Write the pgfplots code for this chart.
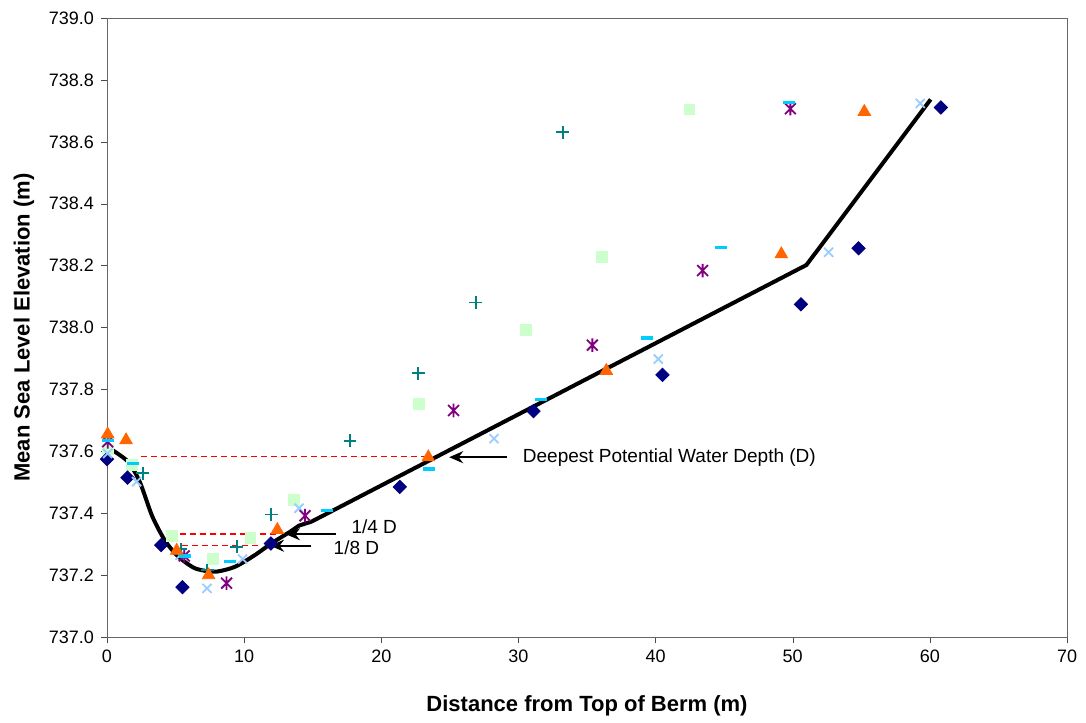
\documentclass[border=0pt]{standalone}
\usepackage{pgfplots}
\pgfplotsset{compat=1.18}
\usepackage{fontspec}
\setmainfont{Liberation Sans}
\usetikzlibrary{arrows.meta}
\definecolor{cnavy}{RGB}{0,0,128}
\definecolor{cgreen}{RGB}{204,255,204}
\definecolor{corange}{RGB}{255,102,0}
\definecolor{clblue}{RGB}{153,204,255}
\definecolor{cpurple}{RGB}{128,0,128}
\definecolor{cteal}{RGB}{0,128,128}
\definecolor{ccyan}{RGB}{0,204,255}
\pgfdeclareplotmark{xstar}{%
  \pgfpathmoveto{\pgfqpoint{-.8\pgfplotmarksize}{-.8\pgfplotmarksize}}%
  \pgfpathlineto{\pgfqpoint{.8\pgfplotmarksize}{.8\pgfplotmarksize}}%
  \pgfpathmoveto{\pgfqpoint{-.8\pgfplotmarksize}{.8\pgfplotmarksize}}%
  \pgfpathlineto{\pgfqpoint{.8\pgfplotmarksize}{-.8\pgfplotmarksize}}%
  \pgfpathmoveto{\pgfqpoint{0pt}{-\pgfplotmarksize}}%
  \pgfpathlineto{\pgfqpoint{0pt}{\pgfplotmarksize}}%
  \pgfusepathqstroke}
\begin{document}
\begin{tikzpicture}
\begin{axis}[
  scale only axis, width=480pt, height=309.5pt,
  xmin=0, xmax=70, ymin=737, ymax=739,
  xtick={0,10,...,70}, ytick={737,737.2,...,739.01},
  yticklabel style={/pgf/number format/.cd, fixed, fixed zerofill, precision=1},
  /pgf/number format/assume math mode=true,
  /pgf/number format/1000 sep={},
  tick label style={font=\fontsize{9}{10}\selectfont},
  tick align=outside, tick pos=left, major tick length=3pt,
  axis line style={black!60}, tick style={black!70},
  xlabel={\textbf{Distance from Top of Berm (m)}},
  ylabel={\textbf{Mean Sea Level Elevation (m)}},
  label style={font=\fontsize{11}{13}\selectfont},
  xlabel style={yshift=-9.5pt},
  ylabel style={yshift=0.5pt},
  clip=false,
]
% fitted profile
\addplot[black, line width=2pt, smooth, tension=0.45] coordinates {
(0,737.615) (1.5,737.568) (2.4,737.5) (3.3,737.39) (4.25,737.31) (5.2,737.26) (6.42,737.222) (7.87,737.211) (9.33,737.227) (10.79,737.265) (12.0,737.303) (13.35,737.34)};
\addplot[black, line width=2pt] coordinates {
(13.35,737.34) (14.0,737.36) (14.92,737.373) (51.0,738.202) (60.06,738.737)};
% dashed reference levels
\addplot[red, line width=0.6pt, dash pattern=on 3pt off 2pt] coordinates {(2.5,737.582) (23.4,737.582)};
\addplot[red, line width=0.6pt, dash pattern=on 3pt off 2pt] coordinates {(4.6,737.333) (12.4,737.333)};
\addplot[red, line width=0.6pt, dash pattern=on 3pt off 2pt] coordinates {(5.5,737.295) (11.0,737.295)};
% series
\addplot[only marks, mark=square*, mark size=2.7pt, color=cgreen] coordinates {
(0.05,737.606) (1.8,737.556) (4.76,737.326) (7.7,737.253) (10.45,737.321) (13.63,737.443) (22.75,737.752) (30.57,737.993) (36.11,738.227) (42.46,738.705)};
\addplot[only marks, mark=square*, mark size=2.35pt, mark options={rotate=45}, color=cnavy] coordinates {
(0,737.575) (1.5,737.515) (3.95,737.297) (5.5,737.161) (11.95,737.302) (21.35,737.485) (31.1,737.73) (40.5,737.847) (50.6,738.075) (54.8,738.256) (60.8,738.711)};
\addplot[only marks, mark=x, mark size=3.2pt, line width=0.9pt, color=clblue] coordinates {
(0.05,737.593) (2.16,737.502) (5.32,737.264) (7.29,737.157) (9.89,737.252) (14.0,737.416) (28.22,737.641) (40.2,737.898) (52.62,738.243) (59.3,738.724)};
\addplot[only marks, mark=xstar, mark size=3.4pt, line width=0.9pt, color=cpurple] coordinates {
(0.05,737.631) (5.63,737.262) (8.72,737.174) (14.44,737.392) (25.27,737.732) (35.39,737.943) (43.43,738.184) (49.83,738.707)};
\addplot[only marks, mark=+, mark size=3.2pt, line width=0.9pt, color=cteal] coordinates {
(2.6,737.529) (5.37,737.284) (7.31,737.216) (9.45,737.292) (11.98,737.396) (17.72,737.634) (22.7,737.852) (26.88,738.081) (33.23,738.631)};
\addplot[only marks, mark=-, mark size=3pt, line width=1.6pt, color=ccyan] coordinates {
(0.05,737.636) (1.9,737.561) (5.69,737.262) (8.97,737.243) (16.07,737.41) (23.48,737.543) (31.64,737.768) (39.35,737.966) (44.74,738.259) (49.75,738.727)};
\addplot[only marks, mark=triangle*, mark size=3.6pt, color=corange] coordinates {
(0.05,737.655) (1.39,737.636) (5.08,737.279) (7.41,737.2) (12.42,737.346) (23.43,737.581) (36.41,737.86) (49.17,738.237) (55.22,738.697)};
% annotations
\draw[-{Stealth[length=7pt,width=6pt]}, line width=0.9pt] (axis cs:29.2,737.581) -- (axis cs:24.95,737.581);
\node[anchor=west, font=\fontsize{9.5}{11}\selectfont, inner sep=0pt] at (axis cs:30.3,737.581) {Deepest Potential Water Depth (D)};
\draw[-{Stealth[length=7pt,width=6pt]}, line width=0.9pt] (axis cs:16.7,737.332) -- (axis cs:13.05,737.332);
\node[anchor=west, font=\fontsize{9.5}{11}\selectfont, inner sep=0pt] at (axis cs:17.8,737.356) {1/4 D};
\draw[-{Stealth[length=7pt,width=6pt]}, line width=0.9pt] (axis cs:14.88,737.295) -- (axis cs:11.89,737.295);
\node[anchor=west, font=\fontsize{9.5}{11}\selectfont, inner sep=0pt] at (axis cs:16.5,737.290) {1/8 D};
\end{axis}
\path ([xshift=-53.5pt,yshift=-42pt]current axis.south west) rectangle ([xshift=9.5pt,yshift=9pt]current axis.north east);
\end{tikzpicture}
\end{document}
